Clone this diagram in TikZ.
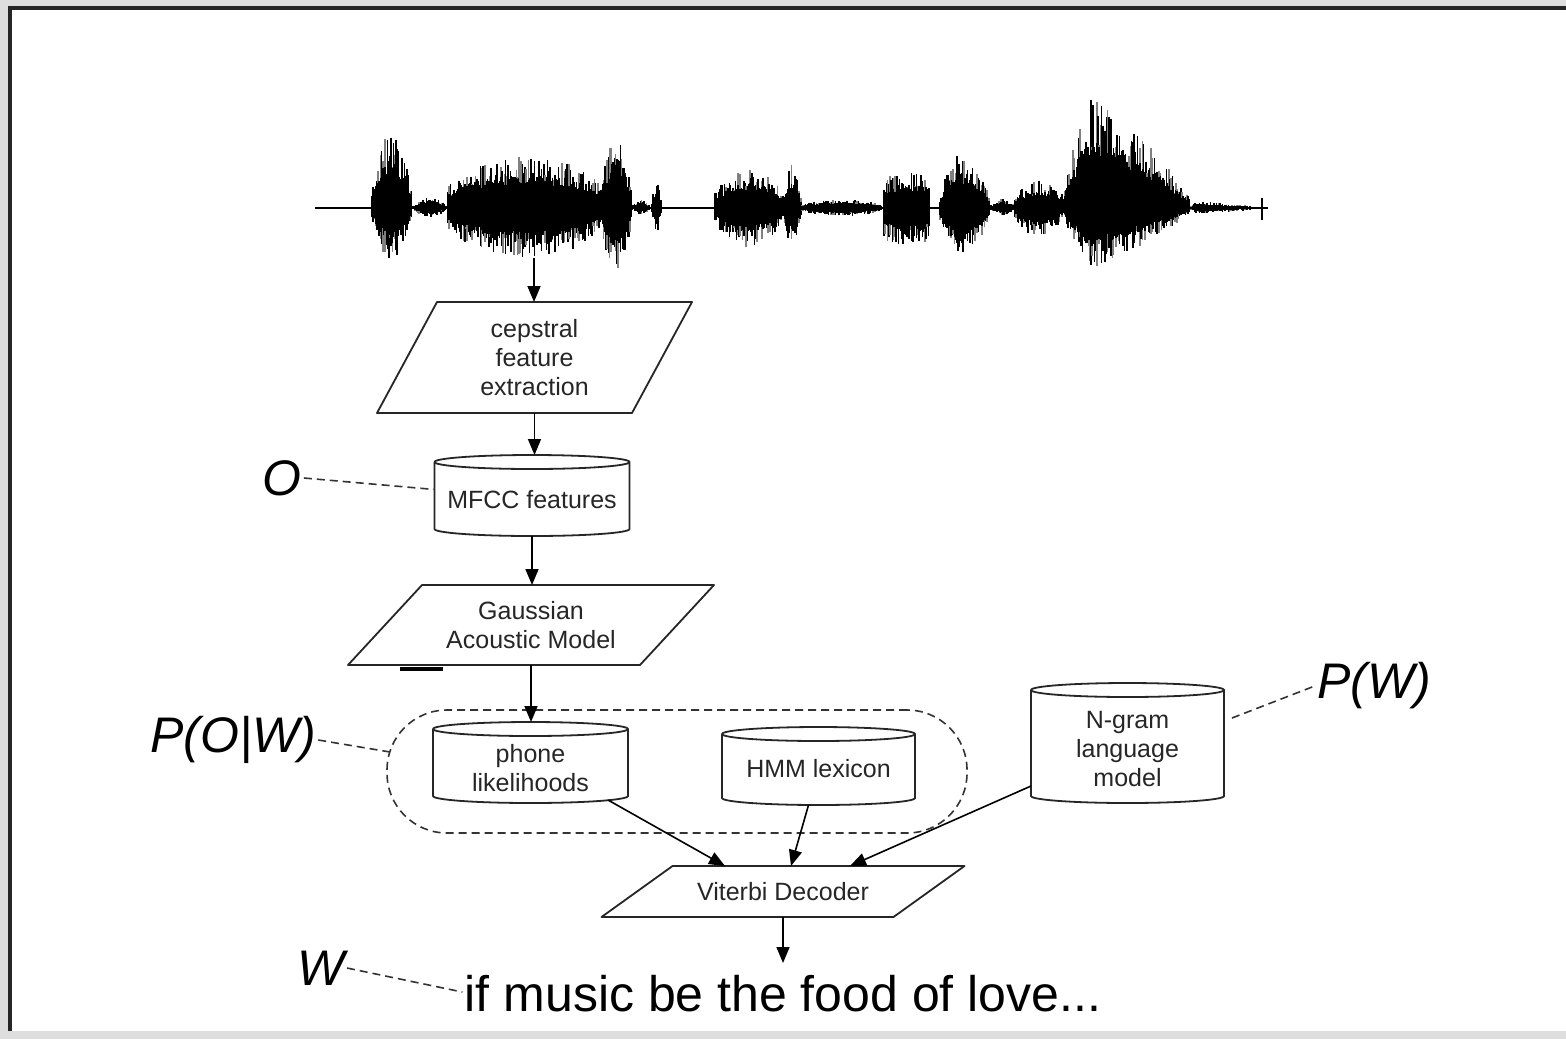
\documentclass[tikz,border=0pt]{standalone}
\usepackage{fontspec}
\setmainfont{Liberation Sans}
\usetikzlibrary{arrows.meta,calc}
\def\cylry{7}
\newcommand\pgram[7]{% name, cx, cy, half edge, half height, slant, text
  \node[ghost, minimum width={(2*#4+#6)*0.5pt}, minimum height={2*#5*0.5pt}] (#1) at (#2,#3) {};
  \draw[boxline] ($(#1.center)+({-#4+#6/2},{-#5})$) -- ++({2*#4},0) -- ($(#1.center)+({#4-#6/2},{#5})$) -- ++({-2*#4},0) -- cycle;
  \node[boxtext] (#1-t) at (#1.center) {#7};
}
\newcommand\dbnode[7]{% name, cx, cy, w, h, text shift, text
  \node[ghost, minimum width={#4*0.5pt}, minimum height={#5*0.5pt}] (#1) at (#2,#3) {};
  \draw[boxline] ($(#1.north west)+(0,\cylry)$) -- ($(#1.south west)+(0,-\cylry)$)
     arc[start angle=180,end angle=360,x radius={#4*0.25pt},y radius={\cylry*0.5pt}]
     -- ($(#1.north east)+(0,\cylry)$)
     arc[start angle=0,end angle=360,x radius={#4*0.25pt},y radius={\cylry*0.5pt}];
  \node[boxtext] (#1-t) at ($(#1.center)+(0,#6)$) {#7};
}
\tikzset{
  boxline/.style={draw=black!85, line width=0.9pt, line join=round},
  arr/.style={draw=black, line width=0.8pt, -{Triangle[length=8pt,width=6.5pt]}},
  leader/.style={draw=black!80, line width=0.8pt, dash pattern=on 4pt off 2.5pt},
  boxtext/.style={font=\fontsize{12.5}{14.5}\selectfont, align=center, inner sep=0pt, text=black!85},
  ghost/.style={inner sep=0pt, outer sep=0pt},
  biglabel/.style={font=\fontsize{25}{30}\selectfont\itshape, inner sep=1pt},
}
\begin{document}
\begin{tikzpicture}[x=0.5pt,y=-0.5pt]
\useasboundingbox (0,0) rectangle (1566,1039);
% frame
\fill[black!13] (0,0) rectangle (1566,1039);
\fill[white] (10,8) rectangle (1566,1031);
\draw[black!85, line width=2pt] (8,8) -- (1566,8);
\draw[black!85, line width=2pt] (10,6) -- (10,1031);

% waveform
\pgfmathsetseed{12}
\draw[black, line width=1.3pt] (315,208) -- (1268,208);
\draw[black, line width=1pt] (1262,198) -- (1262,220);
\foreach \xa/\xb/\up/\dn/\p/\pw in {
  372/412/82/58/0.45/0.5,
  412/448/12/10/0.5/0.6,
  448/600/54/52/0.55/0.25,
  600/632/82/68/0.5/0.5,
  632/650/9/7/0.5/0.5,
  652/662/30/25/0.5/0.5,
  715/782/40/40/0.5/0.3,
  782/802/45/40/0.5/0.5,
  802/882/9/9/0.5/0.3,
  884/930/37/38/0.5/0.08,
  940/990/58/55/0.35/0.5,
  990/1015/10/8/0.5/0.5,
  1015/1062/28/30/0.5/0.3,
  1062/1190/116/62/0.22/0.7,
  1190/1262/7/6/0.1/0.7}{
  \pgfmathsetmacro\xn{\xa+1.2}
  \foreach \x in {\xa,\xn,...,\xb}{
    \pgfmathsetmacro\t{(\x-\xa)/(\xb-\xa)}
    \pgfmathsetmacro\env{max(0.05,min(\t/\p,(1-\t)/(1-\p)))^\pw}
    \pgfmathsetmacro\u{\up*\env*(0.4+0.6*rnd)}
    \pgfmathsetmacro\d{\dn*\env*(0.4+0.6*rnd)}
    \pgfmathtruncatemacro\g{rnd>0.7?50:100}
    \draw[black!\g, line width=0.75pt] (\x,208-\u) -- (\x,208+\d);
    \pgfmathsetmacro\cu{\up*\env*(0.45+0.2*rnd)}
    \pgfmathsetmacro\cd{\dn*\env*(0.45+0.2*rnd)}
    \draw[black, line width=0.75pt] (\x,208-\cu) -- (\x,208+\cd);
  }
}
\coordinate (wavebot) at (534,258);

% boxes
\pgram{cep}{534.5}{357.5}{127.5}{55.5}{60}{cepstral\\feature\\extraction}
\dbnode{mfcc}{532}{495.5}{195}{81}{4.5}{MFCC features}
\pgram{gauss}{531}{625}{146}{40}{74}{Gaussian\\Acoustic Model}
\draw[black, line width=2pt] (400,669) -- (443,669);

\node[ghost, draw=black!80, line width=0.8pt, dash pattern=on 4pt off 2.5pt, rounded corners=30pt,
      minimum width=290pt, minimum height=61.5pt] (grp) at (677,771.5) {};

\dbnode{phone}{530.5}{762.5}{195}{81}{6}{phone\\likelihoods}
\dbnode{hmm}{818.5}{766}{193}{78}{3}{HMM lexicon}
\dbnode{ngram}{1127.5}{743}{193}{120}{6}{N-gram\\language\\model}
\pgram{vit}{783}{891.5}{146}{25.5}{71}{Viterbi Decoder}

\node[inner sep=1pt, font=\fontsize{25}{30}\selectfont] (sent) at (783,994) {if music be the food of love...};

% labels
\node[biglabel] (lO) at (282,478) {O};
\node[biglabel] (lPOW) at (233,740) {P(O|W)};
\node[biglabel] (lPW) at (1374,686) {P(W)};
\node[biglabel] (lW) at (321,968) {W};

% arrows
\draw[arr] (wavebot) -- (wavebot |- cep.north);
\draw[arr] (cep.south) -- (cep.south |- mfcc.north);
\draw[arr] (mfcc.south) -- (mfcc.south |- gauss.north);
\draw[arr] (gauss.south) -- (gauss.south |- phone.north);
\draw[arr] ($(phone.south)+(77.5,-3)$) -- ($(vit.north)+(-58,0)$);
\draw[arr] ($(hmm.south)+(-10,0)$) -- ($(vit.north)+(8,0)$);
\draw[arr] ($(ngram.south west)+(0,-17)$) -- ($(vit.north)+(67,0)$);
\draw[arr] (vit.south) -- ($(vit.south)+(0,46)$);

% leaders
\draw[leader] (lO.east) -- ($(mfcc.west)+(0,-6)$);
\draw[leader] (lPOW.east) -- ($(grp.west)+(3,-19.5)$);
\draw[leader] ($(ngram.east)+(8,-25)$) -- (lPW.west);
\draw[leader] (lW.east) -- ($(sent.west)+(0,-2)$);
\end{tikzpicture}
\end{document}
